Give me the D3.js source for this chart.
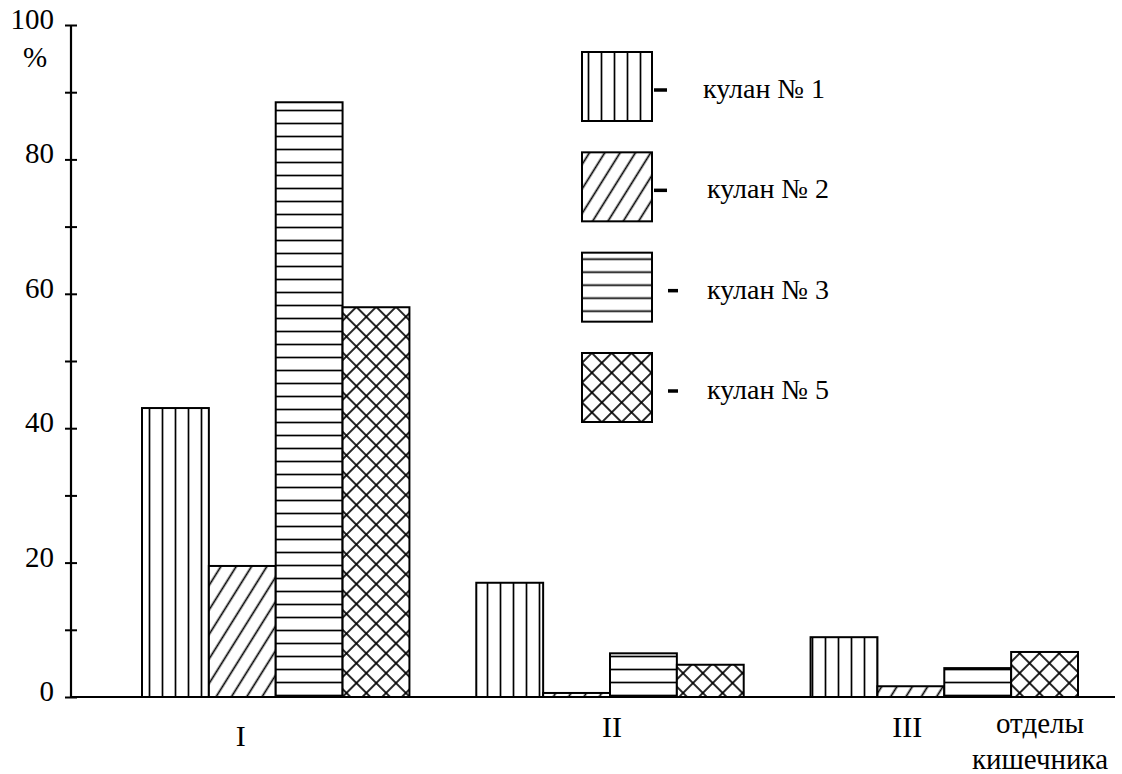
<!DOCTYPE html>
<html>
<head>
<meta charset="utf-8">
<script src="https://cdn.jsdelivr.net/npm/d3@7"></script>
<style>
  html, body { margin: 0; padding: 0; background: #fff; }
  svg { display: block; }
  svg text { fill: #000; }
</style>
</head>
<body>
<svg id="chart" width="1122" height="774"></svg>
<script>
// Sections of the intestine (x categories)
const categories = ["I", "II", "III"];
// Animals (series)
const series = ["кулан № 1", "кулан № 2", "кулан № 3", "кулан № 5"];
// Share, % per section
const kulan1 = [43, 17, 8.9];
const kulan2 = [19.5, 0.6, 1.6];
const kulan3 = [88.5, 6.5, 4.3];
const kulan5 = [58, 4.8, 6.7];
// Y axis ticks
const yTicks = [0, 10, 20, 30, 40, 50, 60, 70, 80, 90, 100];
const yTickLabels = ["0", "", "20", "", "40", "", "60", "", "80", "", "100"];
const yUnit = "%";
const xTitle = ["отделы", "кишечника"];

const values = [kulan1, kulan2, kulan3, kulan5];
const patternIds = ["hatch-v", "hatch-d", "hatch-h", "hatch-x"];
const serif = "'Liberation Serif', 'Times New Roman', Times, Tinos, 'Noto Serif', 'DejaVu Serif', 'Noto Serif CJK SC', FreeSerif, 'Nimbus Roman', serif";

const svg = d3.select("#chart");
const defs = svg.append("defs");

// Hatch fills
function linePattern(id, size, angle, cross) {
  const p = defs.append("pattern")
    .attr("id", id)
    .attr("patternUnits", "userSpaceOnUse")
    .attr("width", size).attr("height", size)
    .attr("patternTransform", `rotate(${angle})`);
  p.append("rect").attr("width", size).attr("height", size).attr("fill", "#fff");
  p.append("line")
    .attr("x1", size / 2).attr("y1", 0).attr("x2", size / 2).attr("y2", size)
    .attr("stroke", "#000").attr("stroke-width", 1.7);
  if (cross) {
    p.append("line")
      .attr("x1", 0).attr("y1", size / 2).attr("x2", size).attr("y2", size / 2)
      .attr("stroke", "#000").attr("stroke-width", 1.7);
  }
}
linePattern("hatch-v", 13, 0, false);
linePattern("hatch-d", 13, 32, false);
linePattern("hatch-h", 13, 90, false);
linePattern("hatch-x", 14, 45, true);

// Scales
const y = d3.scaleLinear().domain([0, 100]).range([697, 25]);
const x0 = d3.scaleBand().domain(categories).range([142, 1078]).paddingInner(0.2).paddingOuter(0);
const x1 = d3.scaleBand().domain(series).range([0, x0.bandwidth()]);
const axisX = 71;

// Bars
const barData = [];
categories.forEach((c, ci) => {
  series.forEach((s, si) => {
    barData.push({ cat: c, ser: s, si, v: values[si][ci] });
  });
});

svg.append("g").selectAll("rect")
  .data(barData)
  .join("rect")
  .attr("x", d => x0(d.cat) + x1(d.ser))
  .attr("y", d => y(d.v))
  .attr("width", x1.bandwidth())
  .attr("height", d => y(0) - y(d.v))
  .attr("fill", d => `url(#${patternIds[d.si]})`)
  .attr("stroke", "#000")
  .attr("stroke-width", 2);

// Y axis
const yAxis = d3.axisLeft(y)
  .tickValues(yTicks)
  .tickSize(6)
  .tickPadding(11)
  .tickFormat((d, i) => yTickLabels[i]);

const gy = svg.append("g")
  .attr("transform", `translate(${axisX},0)`)
  .call(yAxis)
  .attr("font-family", serif);
gy.select(".domain").remove();
gy.selectAll(".tick line")
  .attr("x1", -6).attr("x2", 6)
  .attr("stroke", "#000").attr("stroke-width", 2);
gy.selectAll(".tick text")
  .attr("font-size", 29)
  .attr("dy", "0.12em");

svg.append("line")
  .attr("x1", axisX).attr("x2", axisX)
  .attr("y1", y(100)).attr("y2", y(0))
  .attr("stroke", "#000").attr("stroke-width", 2.2);

svg.append("text")
  .attr("x", 35).attr("y", 67)
  .attr("text-anchor", "middle")
  .attr("font-family", serif)
  .attr("font-size", 29)
  .text(yUnit);

// X axis baseline
svg.append("line")
  .attr("x1", axisX).attr("x2", 1115)
  .attr("y1", y(0)).attr("y2", y(0))
  .attr("stroke", "#000").attr("stroke-width", 2.2);

// Category labels under the groups
const labelShift = { "I": -35, "II": 2, "III": -37 };
const labelBase = { "I": 746, "II": 737, "III": 737 };
svg.append("g").selectAll("text")
  .data(categories)
  .join("text")
  .attr("x", d => x0(d) + x0.bandwidth() / 2 + labelShift[d])
  .attr("y", d => labelBase[d])
  .attr("text-anchor", "middle")
  .attr("font-family", serif)
  .attr("font-size", 30)
  .text(d => d);

svg.append("text")
  .attr("x", 1040).attr("y", 733)
  .attr("text-anchor", "middle")
  .attr("font-family", serif)
  .attr("font-size", 29)
  .text(xTitle[0]);
svg.append("text")
  .attr("x", 1040).attr("y", 769)
  .attr("text-anchor", "middle")
  .attr("font-family", serif)
  .attr("font-size", 29)
  .text(xTitle[1]);

// Legend
const legY = d3.scalePoint().domain(series).range([52, 353]);
const leg = svg.append("g").selectAll("g")
  .data(series)
  .join("g")
  .attr("transform", d => `translate(582,${legY(d)})`);

leg.append("rect")
  .attr("width", 70).attr("height", 69)
  .attr("fill", (d, i) => `url(#${patternIds[i]})`)
  .attr("stroke", "#000").attr("stroke-width", 2);

leg.append("line")
  .attr("x1", (d, i) => i < 2 ? 72 : 86)
  .attr("x2", (d, i) => i < 2 ? 85 : 96)
  .attr("y1", 38).attr("y2", 38)
  .attr("stroke", "#000").attr("stroke-width", 3.5);

leg.append("text")
  .attr("x", (d, i) => i === 0 ? 121 : 125)
  .attr("y", 46)
  .attr("font-family", serif)
  .attr("font-size", 28)
  .text(d => d);
</script>
</body>
</html>
